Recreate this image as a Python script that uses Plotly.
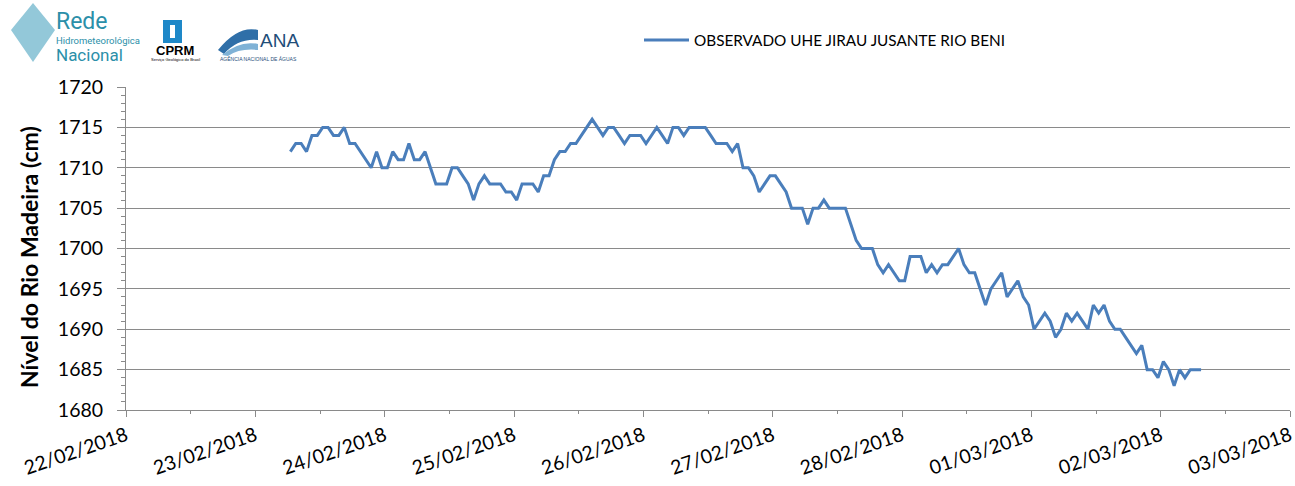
import plotly.graph_objects as go
import pandas as pd

# Hourly water level observations (cm), starting 23/02/2018
start_time = "2018-02-23 06:30"
levels = [
    1712, 1713, 1713, 1712, 1714, 1714, 1715, 1715, 1714, 1714, 1715, 1713, 1713,
    1712, 1711, 1710, 1712, 1710, 1710, 1712, 1711, 1711, 1713, 1711, 1711,
    1712, 1710, 1708, 1708, 1708, 1710, 1710, 1709, 1708, 1706, 1708,
    1709, 1708, 1708, 1708, 1707, 1707, 1706, 1708, 1708, 1708, 1707,
    1709, 1709, 1711, 1712, 1712, 1713, 1713, 1714, 1715, 1716, 1715,
    1714, 1715, 1715, 1714, 1713, 1714, 1714, 1714, 1713, 1714,
    1715, 1714, 1713, 1715, 1715, 1714, 1715, 1715, 1715, 1715,
    1714, 1713, 1713, 1713, 1712, 1713, 1710, 1710, 1709, 1707,
    1708, 1709, 1709, 1708, 1707, 1705, 1705, 1705, 1703, 1705,
    1705, 1706, 1705, 1705, 1705, 1705, 1703, 1701, 1700, 1700,
    1700, 1698, 1697, 1698, 1697, 1696, 1696, 1699, 1699, 1699,
    1697, 1698, 1697, 1698, 1698, 1699, 1700, 1698, 1697, 1697,
    1695, 1693, 1695, 1696, 1697, 1694, 1695, 1696, 1694, 1693,
    1690, 1691, 1692, 1691, 1689, 1690, 1692, 1691, 1692, 1691,
    1690, 1693, 1692, 1693, 1691, 1690, 1690, 1689, 1688, 1687,
    1688, 1685, 1685, 1684, 1686, 1685, 1683, 1685, 1684, 1685,
    1685, 1685,
]
times = pd.date_range(start=start_time, periods=len(levels), freq="h")

series_name = "OBSERVADO UHE JIRAU JUSANTE RIO BENI"
y_title = "Nível do Rio Madeira (cm)"
x_start = "2018-02-22"
x_end = "2018-03-03"
y_min, y_max = 1680, 1720

W, H = 1295, 486
ML, MR, MT, MB = 126, 5, 87, 76
PW, PH = W - ML - MR, H - MT - MB


def px(x):
    return (x - ML) / PW


def py(y):
    return (H - MB - y) / PH


fig = go.Figure()
fig.add_trace(go.Scatter(
    x=times, y=levels, mode="lines", name=series_name,
    line=dict(color="#4a7ebb", width=3),
))

font_family = "Lato, Liberation Sans, sans-serif"
grid_col = "#8a8a8a"

fig.update_layout(
    width=W, height=H,
    margin=dict(l=ML, r=MR, t=MT, b=MB),
    paper_bgcolor="white", plot_bgcolor="white",
    font=dict(family=font_family, color="black"),
    showlegend=True,
    legend=dict(
        x=px(639), y=py(40), xanchor="left", yanchor="middle",
        orientation="h", font=dict(size=15.3, family=font_family),
        bgcolor="rgba(0,0,0,0)", itemwidth=45,
    ),
    xaxis=dict(
        type="date", range=[x_start, x_end], automargin=False,
        dtick=86400000, tick0=x_start, tickformat="%d/%m/%Y",
        tickangle=-19, tickfont=dict(size=19.5),
        ticks="outside", ticklen=6, tickcolor=grid_col, tickwidth=1,
        showline=True, linecolor=grid_col, linewidth=1,
        showgrid=False, zeroline=False,
        minor=dict(ticks="outside", ticklen=3, dtick=43200000,
                   tickcolor=grid_col, showgrid=False),
    ),
    yaxis=dict(
        range=[y_min, y_max], dtick=5, tick0=1680, automargin=False,
        tickfont=dict(size=19.5), ticks="outside", ticklen=8,
        ticklabelstandoff=10,
        tickcolor=grid_col, tickwidth=1,
        showline=True, linecolor=grid_col, linewidth=1,
        showgrid=True, gridcolor=grid_col, gridwidth=1.2, zeroline=False,
        minor=dict(ticks="outside", ticklen=4, dtick=1,
                   tickcolor=grid_col, showgrid=False),
    ),
)

# Y axis title
fig.add_annotation(x=px(29), y=py(257), xref="paper", yref="paper",
                   text="<b>" + y_title + "</b>", textangle=-90,
                   showarrow=False, xanchor="center", yanchor="middle",
                   font=dict(size=23, family=font_family, color="black"))

# Logo approximations (header)
teal = "#2b8fa9"
fig.add_shape(type="path", xref="paper", yref="paper",
              path=(f"M {px(33)} {py(3)} L {px(55)} {py(30)} "
                    f"L {px(33)} {py(62)} L {px(11)} {py(30)} Z"),
              fillcolor="#6fb5cc", line=dict(width=0), opacity=0.75)
fig.add_annotation(x=px(54), y=py(22), xref="paper", yref="paper", text="Rede",
                   showarrow=False, xanchor="left", yanchor="middle",
                   font=dict(size=23, color=teal, family="Roboto"))
fig.add_annotation(x=px(54), y=py(40), xref="paper", yref="paper",
                   text="Hidrometeorológica", showarrow=False, xanchor="left",
                   yanchor="middle", font=dict(size=9.5, color=teal, family="Roboto"))
fig.add_annotation(x=px(54), y=py(55), xref="paper", yref="paper", text="Nacional",
                   showarrow=False, xanchor="left", yanchor="middle",
                   font=dict(size=17, color=teal, family="Roboto"))
# CPRM
fig.add_shape(type="rect", xref="paper", yref="paper",
              x0=px(163), x1=px(182), y0=py(43), y1=py(20),
              fillcolor="#1e88c8", line=dict(width=0))
fig.add_shape(type="rect", xref="paper", yref="paper",
              x0=px(170), x1=px(175), y0=py(38), y1=py(25),
              fillcolor="white", line=dict(width=0))
fig.add_annotation(x=px(175), y=py(50), xref="paper", yref="paper", text="<b>CPRM</b>",
                   showarrow=False, xanchor="center", yanchor="middle",
                   font=dict(size=13, color="black", family="Liberation Sans"))
fig.add_annotation(x=px(175), y=py(59), xref="paper", yref="paper",
                   text="Serviço Geológico do Brasil", showarrow=False,
                   xanchor="center", yanchor="middle",
                   font=dict(size=4, color="black", family="Liberation Sans"))
# ANA
fig.add_shape(type="path", xref="paper", yref="paper",
              path=(f"M {px(218)} {py(50)} Q {px(238)} {py(25)} {px(258)} {py(30)} "
                    f"L {px(258)} {py(40)} Q {px(238)} {py(38)} {px(224)} {py(54)} Z"),
              fillcolor="#2f6fa8", line=dict(width=0))
fig.add_shape(type="path", xref="paper", yref="paper",
              path=(f"M {px(222)} {py(55)} Q {px(240)} {py(40)} {px(258)} {py(44)} "
                    f"L {px(258)} {py(50)} Q {px(240)} {py(48)} {px(228)} {py(56)} Z"),
              fillcolor="#7fb2d6", line=dict(width=0))
fig.add_annotation(x=px(258), y=py(40), xref="paper", yref="paper", text="ANA",
                   showarrow=False, xanchor="left", yanchor="middle",
                   font=dict(size=19, color="#1f4e79", family="Liberation Sans"))
fig.add_annotation(x=px(258), y=py(58), xref="paper", yref="paper",
                   text="AGÊNCIA NACIONAL DE ÁGUAS", showarrow=False,
                   xanchor="center", yanchor="middle",
                   font=dict(size=5, color="#1f4e79", family="Liberation Sans"))

fig.write_html("out.html", config={"displayModeBar": False},
               post_script="document.body.style.margin='0px';")
